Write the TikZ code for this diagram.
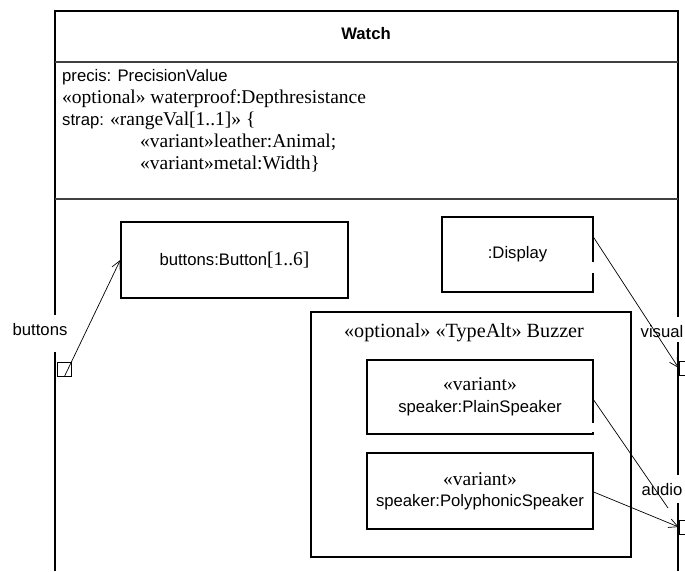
\documentclass[tikz,border=0pt]{standalone}
\usepackage{fontspec}
\setmainfont{Liberation Sans}
\newfontfamily\tmsfam{Liberation Serif}
\usetikzlibrary{arrows.meta}
\newcommand\sansz{\fontsize{16.7}{19}\selectfont}
\newcommand\serz{\tmsfam\fontsize{19.5}{22}\selectfont}
\begin{document}
\begin{tikzpicture}[x=1pt,y=-1pt,
  frame/.style={line width=1.8pt},
  sep/.style={line width=1.3pt,draw=black!75},
  part/.style={draw,line width=1.4pt,inner sep=0pt,align=center,font=\sansz},
  conn/.style={line width=0.7pt},
  lbl/.style={inner sep=0pt,font=\sansz},
  attr/.style={inner sep=0pt,anchor=base west,font=\sansz},
  port/.style={draw,line width=0.7pt,inner sep=0pt,minimum width=14pt,minimum height=14pt},
  tip/.style={-{Straight Barb[length=9pt,width=9pt]}}]
\useasboundingbox (0,0) rectangle (685,571);
% Watch frame
\draw[frame] (55,571) -- (55,352);
\draw[frame] (55,315) -- (55,11) -- (678,11) -- (678,317);
\draw[frame] (678,342) -- (678,475);
\draw[frame] (678,503) -- (678,571);
\draw[sep] (55,62) -- (678,62);
\draw[sep] (55,199) -- (678,199);
\node[lbl,font=\sansz\bfseries] (title) at (366,34) {Watch};
% attributes
\node[attr] (a1) at (62,81) {precis: PrecisionValue};
\node[attr,font=\serz] (a2) at (62,103) {«optional» waterproof:Depthresistance};
\node[attr] (a3) at (62,125) {strap: {\serz «rangeVal[1..1]» \{}};
\node[attr,font=\serz] (a4) at (140,147) {«variant»leather:Animal;};
\node[attr,font=\serz] (a5) at (140,169) {«variant»metal:Width\}};
% parts
\node[part,minimum width=227pt,minimum height=76pt] (btn) at (234.5,260) {buttons:Button{\serz[1..6]}};
\node[part,minimum width=151pt,minimum height=75pt] (disp) at (517.5,254.5) {:Display};
\draw[white,line width=2.5pt] (593,262) -- (593,273);
\node[part,minimum width=320pt,minimum height=245pt] (buzz) at (471,434.5) {};
\node[lbl,font=\serz\fontsize{20.2}{22}\selectfont] (buzzt) at (464,333) {«optional» «TypeAlt» Buzzer};
\node[part,minimum width=226pt,minimum height=74pt] (plain) at (480,397) {{\serz «variant»}\\[3pt]speaker:PlainSpeaker};
\draw[white,line width=2.5pt] (593,423) -- (593,432);
\node[part,minimum width=226pt,minimum height=76pt] (poly) at (480,491) {{\serz «variant»}\\[2pt]speaker:PolyphonicSpeaker};
% ports
\node[port] (lport) at (64.5,369) {};
\node[port,minimum width=8pt] (vport) at (683,368) {};
\node[port,minimum width=8pt] (aport) at (683,527) {};
% labels
\node[lbl] (bl) at (40,330) {buttons};
\node[lbl] (vl) at (662,332) {visual};
\node[lbl] (al) at (662,490) {audio};
% connectors
\coordinate (pend) at (668,508);
\draw[conn,tip] (lport.south) -- (btn.west);
\draw[conn,tip] ([yshift=17pt]disp.east) -- (vport.west);
\draw[conn] ([yshift=-3pt]plain.east) -- (pend);
\draw[conn,tip] ([yshift=-1pt]poly.east) -- (aport.west);
\end{tikzpicture}
\end{document}
